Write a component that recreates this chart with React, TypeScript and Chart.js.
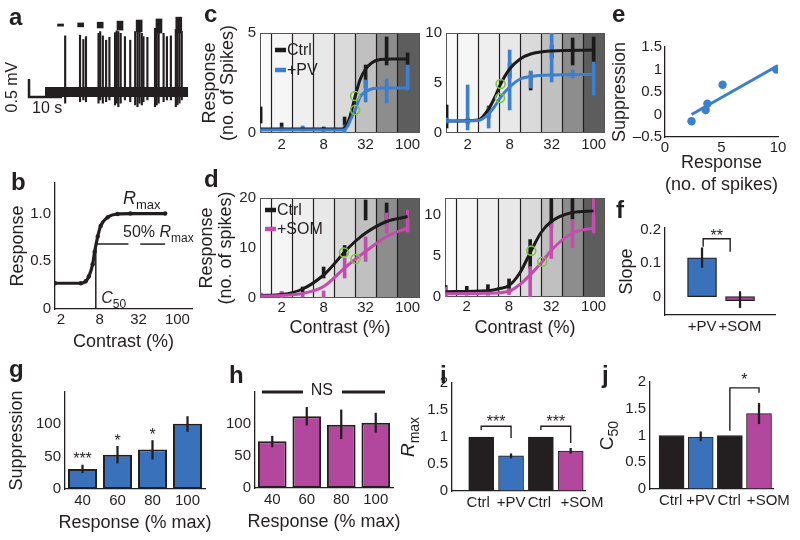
import React, { useEffect, useRef } from 'react';
import { Chart, registerables } from 'chart.js';

Chart.register(...registerables);

const FONT = "'Liberation Sans', Arial, Helvetica, sans-serif";
const INK = '#231f20';
const BAR_BLUE = '#3a71bb';
const BAR_MAG = '#b2479d';
const LINE_BLUE = '#3b7fd1';
const LINE_MAG = '#c34dac';
const LINE_BLACK = '#1c1a1b';
const GREEN = '#7fc341';

// ---------------- data ----------------
// a: spike raster of the example trace (time in s, voltage in mV)
const spikeT = [6.1, 10.6, 11.6, 12.4, 16.2, 16.7, 17.5, 18.5, 19.5, 21.2, 21.7, 22.2, 22.9, 24.2, 25.8, 27.3, 28.0, 28.6, 29.3, 29.8, 31.0, 33.3, 33.8, 34.4, 35.9, 36.9, 38.1, 39.6, 40.1, 40.7, 41.4];
const spikeHi = [1.56, 1.58, 1.46, 1.54, 1.63, 1.68, 1.56, 1.44, 1.52, 1.65, 1.7, 1.68, 1.63, 1.54, 1.44, 1.68, 1.72, 1.68, 1.63, 1.54, 1.52, 1.77, 1.72, 1.7, 1.63, 1.54, 1.56, 1.74, 1.72, 1.7, 1.68];
const spikeLo = [-0.31, -0.27, -0.22, -0.27, -0.31, -0.22, -0.31, -0.27, -0.22, -0.36, -0.31, -0.41, -0.31, -0.22, -0.27, -0.36, -0.41, -0.31, -0.36, -0.27, -0.22, -0.41, -0.36, -0.31, -0.27, -0.22, -0.22, -0.41, -0.36, -0.31, -0.22];
const stimT = [4.7, 10.8, 16.7, 22.7, 28.5, 34.5, 40.5];
const stimHi = [1.89, 1.92, 1.94, 1.97, 2.0, 2.03, 2.08];
const stimLo = [1.83, 1.81, 1.78, 1.72, 1.67, 1.64, 1.64];
const traceStart = 0;
const traceEnd = 43.3;
const sbX = -4.85; // scale bar anchor (s)
const sbY = -0.14; // scale bar anchor (mV)
const sbT = 10; // 10 s
const sbV = 0.5; // 0.5 mV

// shared contrast axis (index of contrast level)
const levelIdx = [0, 1, 2, 3, 4, 5, 6, 7];
const contrastTickPos = [1, 3, 5, 7];
const contrastTickLbl = ['2', '8', '32', '100'];
const bandGrays = ['#fbfbfb', '#f6f6f6', '#efefef', '#e8e8e8', '#dadada', '#c0c0c0', '#8d8d8d', '#5d5d5d'];

// b: schematic curve
const bCurveX = [0.7, 2.03, 2.28, 2.44, 2.64, 2.74, 2.9, 3.05, 3.41, 3.92, 4.58, 6.37];
const bCurveY = [0.27, 0.27, 0.29, 0.34, 0.47, 0.6, 0.76, 0.87, 0.96, 0.995, 1.0, 1.0];
const bC50 = 2.8;
const bHalf = 0.68;

// c left
const c1CtrlX = [0, 3.9, 4.1, 4.25, 4.4, 4.52, 4.73, 4.97, 5.28, 5.68, 6.2, 7];
const c1CtrlY = [0.2, 0.2, 0.4, 0.8, 1.4, 1.9, 2.65, 3.15, 3.5, 3.67, 3.7, 3.7];
const c1PvX = [0, 3.95, 4.15, 4.3, 4.52, 4.73, 4.97, 5.28, 5.8, 7];
const c1PvY = [0.15, 0.15, 0.35, 0.7, 1.2, 1.8, 2.05, 2.2, 2.25, 2.25];
const c1CtrlLo = [0.5, 0.25, 0.15, 0.15, 0.4, 2.25, 3.4, 3.4];
const c1CtrlHi = [1.3, 0.5, 0.3, 0.3, 0.8, 3.4, 4.8, 4.0];
const c1PvLo = [0.1, 0.1, 0.1, 0.05, 0.0, 1.55, 1.5, 2.15];
const c1PvHi = [0.25, 0.3, 0.35, 0.25, 0.4, 2.65, 2.7, 3.4];
const c1C50 = [[4.5, 1.85], [4.5, 1.15]];

// c right
const c2CtrlX = [0, 1.5, 2, 2.3, 2.57, 3, 3.5, 4, 5, 7];
const c2CtrlY = [1.2, 1.3, 2.4, 3.6, 4.9, 6.4, 7.4, 7.9, 8.2, 8.3];
const c2PvX = [0, 1.5, 2, 2.3, 2.54, 3, 3.5, 4, 5, 7];
const c2PvY = [1.2, 1.25, 1.9, 2.7, 3.5, 4.6, 5.4, 5.65, 5.8, 5.85];
const c2CtrlLo = [0.5, 0.9, 1.5, 5.5, 4.3, 7.5, 6.8, 6.9];
const c2CtrlHi = [2.8, 1.5, 2.7, 7.0, 6.1, 8.8, 9.5, 9.6];
const c2PvLo = [1.0, 0.3, 0.5, 2.3, 4.5, 5.1, 5.5, 3.8];
const c2PvHi = [1.5, 4.8, 2.6, 8.3, 6.2, 10, 6.3, 7.1];
const c2C50 = [[2.57, 4.9], [2.54, 3.5]];

// d left
const d1CtrlX = [0, 1, 2, 3, 3.5, 3.97, 4.5, 5, 6, 7];
const d1CtrlY = [0.5, 0.7, 1.8, 4.6, 6.8, 9.1, 11.3, 13, 15.3, 16.3];
const d1SomX = [0, 1, 2, 3, 4, 4.52, 5, 6, 7];
const d1SomY = [0.4, 0.5, 0.9, 2.3, 6, 7.8, 9.3, 12.3, 14];
const d1CtrlLo = [0.3, 0.2, 1.2, 4, 8.5, 15.6, 15, 16];
const d1CtrlHi = [0.9, 1.2, 2.2, 6.2, 10.5, 19.6, 19, 17.5];
const d1SomLo = [0.3, 0, 0.2, 0, 4, 7.3, 13, 13.2];
const d1SomHi = [1.0, 1.3, 1.0, 1.4, 8, 12.2, 17, 17.6];
const d1C50 = [[3.97, 9.1], [4.52, 7.8]];

// d right
const d2CtrlX = [0, 2, 2.5, 3, 3.5, 4.05, 4.5, 5, 6, 7];
const d2CtrlY = [0.65, 0.75, 1.0, 1.4, 2.9, 5.65, 7.8, 9.2, 10.3, 10.5];
const d2SomX = [0, 2, 3, 3.5, 4, 4.57, 5, 6, 7];
const d2SomY = [0.4, 0.45, 0.7, 1.5, 2.7, 4.3, 5.7, 7.8, 8.4];
const d2CtrlLo = [0.2, 0.3, 0.4, 0.8, 3.5, 8.5, 9.5, 10];
const d2CtrlHi = [1.4, 1.3, 1.5, 2.2, 7.0, 12, 12, 12];
const d2SomLo = [0, 0.2, 0.2, 0.3, 0, 4.7, 6, 7.8];
const d2SomHi = [1.2, 0.8, 0.8, 1.0, 3.7, 9, 9.4, 12];
const d2C50 = [[4.05, 5.65], [4.57, 4.3]];

// e
const eX = [2.35, 3.6, 3.75, 5.1, 9.85];
const eY = [-0.15, 0.1, 0.24, 0.66, 1.0];
const eFitX = [2.35, 10];
const eFitY = [0.0, 1.09];

// f
const fCats = ['+PV', '+SOM'];
const fVals = [0.116, -0.012];
const fLo = [0.087, -0.033];
const fHi = [0.146, 0.015];

// g
const gCats = ['40', '60', '80', '100'];
const gVals = [31, 53, 61, 101];
const gLo = [25, 40, 46, 89];
const gHi = [37, 66, 75, 112];
const gStars = ['***', '*', '*', ''];

// h
const hCats = ['40', '60', '80', '100'];
const hVals = [73, 112, 99, 102];
const hLo = [64, 98, 77, 87];
const hHi = [81, 126, 122, 117];

// i
const iCats = ['Ctrl', '+PV', 'Ctrl', '+SOM'];
const iVals = [1, 0.65, 1, 0.74];
const iLo = [null, 0.61, null, 0.7];
const iHi = [null, 0.69, null, 0.79];
const iLabelPos = [0.9, 2.0, 2.95, 4.38];

// j
const jCats = ['Ctrl', '+PV', 'Ctrl', '+SOM'];
const jVals = [1, 0.97, 1, 1.41];
const jLo = [null, 0.9, null, 1.22];
const jHi = [null, 1.07, null, 1.6];
const jLabelPos = [0.97, 2.0, 2.98, 4.32];

const barColors = [INK, BAR_BLUE, INK, BAR_MAG];

// ---------------- layout ----------------
type Box = { x: number; y: number; w: number; h: number };
type Area = { l: number; t: number; r: number; b: number };

const cvA: Box = { x: 0, y: 0, w: 200, h: 120 };
const cvB: Box = { x: 0, y: 170, w: 200, h: 181 };
const aB: Area = { l: 55, t: 178, r: 192, b: 309 };
const cvC1: Box = { x: 198, y: 0, w: 232, h: 160 };
const aC1: Area = { l: 260, t: 33, r: 420, b: 133 };
const cvC2: Box = { x: 425, y: 0, w: 187, h: 160 };
const aC2: Area = { l: 446, t: 33, r: 605, b: 133 };
const cvD1: Box = { x: 198, y: 165, w: 232, h: 172 };
const aD1: Area = { l: 260, t: 198, r: 420, b: 298 };
const cvD2: Box = { x: 425, y: 165, w: 187, h: 172 };
const aD2: Area = { l: 445, t: 198, r: 605, b: 297 };
const cvE: Box = { x: 610, y: 0, w: 190, h: 196 };
const aE: Area = { l: 665, t: 47, r: 778, b: 137 };
const cvF: Box = { x: 610, y: 196, w: 190, h: 150 };
const aF: Area = { l: 665, t: 228, r: 775, b: 315 };
const cvG: Box = { x: 0, y: 360, w: 215, h: 178 };
const aG: Area = { l: 65, t: 392, r: 205, b: 489 };
const cvH: Box = { x: 215, y: 360, w: 215, h: 178 };
const aH: Area = { l: 255, t: 392, r: 393, b: 488 };
const cvI: Box = { x: 390, y: 360, w: 222, h: 180 };
const aI: Area = { l: 452, t: 383, r: 585, b: 491 };
const cvJ: Box = { x: 585, y: 360, w: 215, h: 180 };
const aJ: Area = { l: 650, t: 382, r: 773, b: 489 };

const panelLetters: [string, number, number][] = [
  ['a', 9, 5], ['b', 11, 170], ['c', 204, 2], ['d', 204, 167], ['e', 612, 2],
  ['f', 616, 198], ['g', 9, 357], ['h', 229, 363], ['i', 440, 363], ['j', 602, 363],
];

// ---------------- helpers ----------------
const baseOpts = {
  responsive: false,
  animation: false,
  events: [],
  plugins: { legend: { display: false }, tooltip: { enabled: false } },
};

function layoutFor(cv: Box, a: Area) {
  return { padding: { left: 0, top: a.t - cv.y, right: cv.x + cv.w - a.r, bottom: 0 }, autoPadding: false };
}

function titleOpt(text: any, pad: number, lh = 1, size = 18) {
  return text
    ? { display: true, text, color: INK, font: { family: FONT, size, lineHeight: lh }, padding: { top: pad, bottom: pad } }
    : { display: false };
}

function valueAxis(o: any) {
  return {
    type: 'linear',
    min: o.min,
    max: o.max,
    offset: false,
    grid: { display: false, drawTicks: false, offset: false },
    border: { display: o.border !== false, color: INK, width: 1.3 },
    afterBuildTicks: (s: any) => {
      s.ticks = o.ticks.map((v: number) => ({ value: v }));
    },
    afterFit: (s: any) => {
      if (o.horizontal) s.height = o.size;
      else s.width = o.size;
    },
    ticks: {
      callback: (_v: any, i: number) => o.labels[i],
      font: { family: FONT, size: o.tickSize || 15 },
      color: INK,
      padding: o.pad ?? 3,
      autoSkip: false,
      maxRotation: 0,
      minRotation: 0,
    },
    title: titleOpt(o.title, o.titlePad || 0, o.titleLH || 1),
  };
}

function catAxis(o: any) {
  return {
    type: 'category',
    grid: { display: false, drawTicks: false },
    border: { display: true, color: INK, width: 1.3 },
    afterFit: (s: any) => {
      s.height = o.size;
    },
    ticks: { font: { family: FONT, size: 15 }, color: INK, padding: o.pad ?? 3, autoSkip: false, maxRotation: 0, minRotation: 0 },
  };
}

type Part = { t: string; italic?: boolean; sub?: boolean };
function drawRich(ctx: any, x: number, y: number, parts: Part[], size: number, align: 'left' | 'center' = 'left') {
  const fontOf = (p: Part) => `${p.italic ? 'italic ' : ''}${p.sub ? Math.round(size * 0.72) : size}px ${FONT}`;
  let w = 0;
  parts.forEach((p) => {
    ctx.font = fontOf(p);
    w += ctx.measureText(p.t).width;
  });
  let cx = align === 'center' ? x - w / 2 : x;
  ctx.textAlign = 'left';
  ctx.textBaseline = 'alphabetic';
  ctx.fillStyle = INK;
  parts.forEach((p) => {
    ctx.font = fontOf(p);
    ctx.fillText(p.t, cx, p.sub ? y + size * 0.28 : y);
    cx += ctx.measureText(p.t).width;
  });
}

function strokePath(ctx: any, xs: any, ys: any, pts: number[][], width = 1.5) {
  ctx.strokeStyle = INK;
  ctx.lineWidth = width;
  ctx.beginPath();
  pts.forEach(([x, y], i) => {
    const px = xs.getPixelForValue(x);
    const py = ys.getPixelForValue(y);
    if (i === 0) ctx.moveTo(px, py);
    else ctx.lineTo(px, py);
  });
  ctx.stroke();
}

function annot(id: string, draw: (ctx: any, xs: any, ys: any, chart: any) => void) {
  return {
    id,
    afterDraw(chart: any) {
      const ctx = chart.ctx;
      ctx.save();
      draw(ctx, chart.scales.x, chart.scales.y, chart);
      ctx.restore();
    },
  };
}

function rotatedLines(ctx: any, xs: number[], yMid: number, lines: string[], size = 18) {
  ctx.fillStyle = INK;
  ctx.font = `${size}px ${FONT}`;
  ctx.textAlign = 'center';
  ctx.textBaseline = 'middle';
  lines.forEach((t, k) => {
    ctx.save();
    ctx.translate(xs[k], yMid);
    ctx.rotate(-Math.PI / 2);
    ctx.fillText(t, 0, 0);
    ctx.restore();
  });
}

const bandsPlugin = {
  id: 'bands',
  beforeDatasetsDraw(chart: any) {
    const { ctx, chartArea: a } = chart;
    const x = chart.scales.x;
    ctx.save();
    bandGrays.forEach((g, i) => {
      const x0 = i === 0 ? a.left : x.getPixelForValue(i - 0.5);
      const x1 = i === bandGrays.length - 1 ? a.right : x.getPixelForValue(i + 0.5);
      ctx.fillStyle = g;
      ctx.fillRect(x0, a.top, x1 - x0, a.bottom - a.top);
    });
    ctx.strokeStyle = INK;
    ctx.lineWidth = 1.2;
    for (let i = 0; i < bandGrays.length - 1; i++) {
      const px = Math.round(x.getPixelForValue(i + 0.5)) + 0.5;
      ctx.beginPath();
      ctx.moveTo(px, a.top);
      ctx.lineTo(px, a.bottom);
      ctx.stroke();
    }
    ctx.strokeStyle = '#555';
    ctx.lineWidth = 1;
    ctx.strokeRect(a.left + 0.5, a.top + 0.5, a.right - a.left - 1, a.bottom - a.top - 1);
    ctx.restore();
  },
};

function insideLegend(dx: number, dy: number, gap: number) {
  return {
    id: 'insideLegend',
    afterDatasetsDraw(chart: any) {
      const { ctx, chartArea: a } = chart;
      const items = chart.data.datasets.filter((d: any) => d.legendRank !== undefined).sort((p: any, q: any) => p.legendRank - q.legendRank);
      ctx.save();
      items.forEach((d: any, k: number) => {
        const y = a.top + dy + k * gap;
        ctx.strokeStyle = d.borderColor;
        ctx.lineWidth = 4.5;
        ctx.beginPath();
        ctx.moveTo(a.left + dx, y);
        ctx.lineTo(a.left + dx + 11, y);
        ctx.stroke();
        ctx.fillStyle = INK;
        ctx.font = `16px ${FONT}`;
        ctx.textAlign = 'left';
        ctx.textBaseline = 'middle';
        ctx.fillText(d.label, a.left + dx + 12, y + 1);
      });
      ctx.restore();
    },
  };
}

// ---------------- chart configs ----------------
function cfgA() {
  return {
    type: 'line',
    data: {
      datasets: [
        { type: 'bar', data: spikeT.map((t, i) => ({ x: t, y: [spikeLo[i], spikeHi[i]] })), backgroundColor: INK, barThickness: 1.5, grouped: false, order: 1 },
        { type: 'bar', data: stimT.map((t, i) => ({ x: t, y: [stimLo[i], stimHi[i]] })), backgroundColor: INK, barThickness: 6, grouped: false, order: 1 },
        { data: [{ x: traceStart, y: 0 }, { x: traceEnd, y: 0 }], borderColor: INK, borderWidth: 10, pointRadius: 0, order: 2 },
        {
          data: [{ x: sbX, y: sbY + sbV }, { x: sbX, y: sbY }, { x: sbX + sbT, y: sbY }],
          borderColor: INK, borderWidth: 2.5, pointRadius: 0, order: 0,
        },
      ],
    },
    options: {
      ...baseOpts,
      layout: { padding: { left: 25, top: 15, right: 8, bottom: 10 }, autoPadding: false },
      scales: {
        x: { type: 'linear', display: false, offset: false, min: -6.06, max: 44.5 },
        y: { type: 'linear', display: false, min: -0.5, max: 2.14 },
      },
    },
    plugins: [
      annot('aLabels', (ctx, x, y) => {
        const bx = x.getPixelForValue(sbX);
        const by0 = y.getPixelForValue(sbY);
        const by1 = y.getPixelForValue(sbY + sbV);
        ctx.fillStyle = INK;
        ctx.font = `16px ${FONT}`;
        ctx.save();
        ctx.translate(bx - 8, (by0 + by1) / 2 - 1);
        ctx.rotate(-Math.PI / 2);
        ctx.textAlign = 'center';
        ctx.textBaseline = 'bottom';
        ctx.fillText('0.5 mV', 0, 0);
        ctx.restore();
        ctx.textAlign = 'left';
        ctx.textBaseline = 'top';
        ctx.fillText('10 s', bx + 3, by0 + 4);
      }),
    ],
  };
}

function cfgB() {
  return {
    type: 'line',
    data: {
      datasets: [
        {
          data: bCurveX.map((x, i) => ({ x, y: bCurveY[i] })),
          borderColor: INK, borderWidth: 3.2, pointRadius: 2.2, pointBackgroundColor: INK, pointBorderWidth: 0,
          cubicInterpolationMode: 'monotone',
        },
      ],
    },
    options: {
      ...baseOpts,
      layout: layoutFor(cvB, aB),
      scales: {
        x: valueAxis({ min: 0.7, max: 7.75, ticks: contrastTickPos, labels: contrastTickLbl, horizontal: true, size: cvB.y + cvB.h - aB.b, pad: 2, title: 'Contrast (%)' }),
        y: valueAxis({ min: 0, max: 1.32, ticks: [0, 0.5, 1.0], labels: ['0', '0.5', '1.0'], size: aB.l - cvB.x, pad: 4, title: 'Response', titlePad: 9 }),
      },
    },
    plugins: [
      annot('bNotes', (ctx, xs, ys) => {
        strokePath(ctx, xs, ys, [[bC50, 0], [bC50, bHalf]], 1.5);
        strokePath(ctx, xs, ys, [[bC50, bHalf], [4.48, bHalf]], 1.5);
        strokePath(ctx, xs, ys, [[5.09, bHalf], [6.37, bHalf]], 1.5);
        drawRich(ctx, xs.getPixelForValue(4.2), ys.getPixelForValue(1.1), [{ t: 'R', italic: true }, { t: 'max', sub: true }], 18);
        drawRich(ctx, xs.getPixelForValue(4.2), ys.getPixelForValue(0.75), [{ t: '50% ' }, { t: 'R', italic: true }, { t: 'max', sub: true }], 16);
        drawRich(ctx, xs.getPixelForValue(3.08), ys.getPixelForValue(0.06), [{ t: 'C', italic: true }, { t: '50', sub: true }], 16);
      }),
    ],
  };
}

function cfgCurve(o: any) {
  const errs = (lo: number[], hi: number[], color: string, order: number) => ({
    type: 'bar',
    data: lo.map((l, i) => ({ x: levelIdx[i], y: [l, hi[i]] })),
    backgroundColor: color,
    barThickness: 3,
    grouped: false,
    order,
  });
  const curve = (xs: number[], ysv: number[], color: string, label: string, rank: number, order: number) => ({
    label,
    legendRank: rank,
    data: xs.map((x, i) => ({ x, y: ysv[i] })),
    borderColor: color,
    borderWidth: 3,
    pointRadius: 0,
    cubicInterpolationMode: 'monotone',
    order,
  });
  const datasets = [
    {
      label: 'C50', data: o.c50.map(([x, y]: number[]) => ({ x, y })), showLine: false,
      pointRadius: 4.5, pointBorderColor: GREEN, pointBackgroundColor: 'rgba(0,0,0,0)', pointBorderWidth: 1.6, order: 0,
    },
    curve(o.expX, o.expY, o.expColor, o.expLabel, 1, 2),
    curve(o.ctrlX, o.ctrlY, LINE_BLACK, 'Ctrl', 0, 3),
    errs(o.expLo, o.expHi, o.expColor, 4),
    errs(o.ctrlLo, o.ctrlHi, LINE_BLACK, 5),
  ];
  const plugins: any[] = [bandsPlugin];
  if (o.legend) plugins.push(insideLegend(o.legend[0], o.legend[1], o.legend[2]));
  if (o.yTitle) {
    plugins.push(
      annot('yTitle', (ctx, _xs, _ys, chart) => {
        const a = chart.chartArea;
        rotatedLines(ctx, o.yTitleDx.map((d: number) => a.left + d), (a.top + a.bottom) / 2, o.yTitle);
      }),
    );
  }
  return {
    type: 'line',
    data: { datasets },
    options: {
      ...baseOpts,
      layout: layoutFor(o.cv, o.a),
      scales: {
        x: valueAxis({
          min: o.xmin, max: o.xmax, ticks: contrastTickPos, labels: contrastTickLbl, horizontal: true,
          size: o.cv.y + o.cv.h - o.a.b, pad: o.xPad ?? 3, border: false, title: o.xTitle,
        }),
        y: valueAxis({
          min: 0, max: o.ymax, ticks: o.yTicks, labels: o.yTicks.map(String), size: o.a.l - o.cv.x, pad: 4, border: false,
        }),
      },
    },
    plugins,
  };
}

function cfgE() {
  return {
    type: 'line',
    data: {
      datasets: [
        { data: eX.map((x, i) => ({ x, y: eY[i] })), showLine: false, pointRadius: 4.2, pointBackgroundColor: LINE_BLUE, pointBorderWidth: 0, order: 0 },
        { data: eFitX.map((x, i) => ({ x, y: eFitY[i] })), borderColor: LINE_BLUE, borderWidth: 3, pointRadius: 0, order: 1 },
      ],
    },
    options: {
      ...baseOpts,
      layout: layoutFor(cvE, aE),
      scales: {
        x: valueAxis({ min: 0, max: 10, ticks: [0, 5, 10], labels: ['0', '5', '10'], horizontal: true, size: cvE.y + cvE.h - aE.b, pad: 2, title: ['Response', '(no. of spikes)'], titleLH: 1.22 }),
        y: valueAxis({ min: -0.5, max: 1.5, ticks: [-0.5, 0, 0.5, 1, 1.5], labels: ['\u20130.5', '0', '0.5', '1', '1.5'], size: aE.l - cvE.x, pad: 3, title: 'Suppression', titlePad: 1 }),
      },
    },
  };
}

function cfgF() {
  return {
    type: 'line',
    data: {
      datasets: [
        { type: 'bar', data: fLo.map((l, i) => ({ x: i + 1, y: [l, fHi[i]] })), backgroundColor: INK, barThickness: 1.6, grouped: false, order: 0 },
        {
          type: 'bar', data: fVals.map((v, i) => ({ x: i + 1, y: v })), backgroundColor: [BAR_BLUE, BAR_MAG],
          borderColor: INK, borderWidth: 1.3, borderSkipped: false, barThickness: 29, grouped: false, order: 1,
        },
      ],
    },
    options: {
      ...baseOpts,
      layout: layoutFor(cvF, aF),
      scales: {
        x: valueAxis({ min: 0.026, max: 2.92, ticks: [1, 2], labels: fCats, horizontal: true, size: cvF.y + cvF.h - aF.b, pad: 3 }),
        y: valueAxis({ min: -0.055, max: 0.205, ticks: [0, 0.1, 0.2], labels: ['0', '0.1', '0.2'], size: aF.l - cvF.x, pad: 4, title: 'Slope', titlePad: 8 }),
      },
    },
    plugins: [
      annot('fNotes', (ctx, xs, ys) => {
        strokePath(ctx, xs, ys, [[1.03, 0.149], [1.03, 0.173], [1.74, 0.173], [1.74, 0.134]], 1.4);
        starText(ctx, '**', xs.getPixelForValue(1.39), ys.getPixelForValue(0.173) + 2);
      }),
    ],
  };
}

function cfgBars(cv: Box, a: Area, cats: string[], vals: number[], lo: number[], hi: number[], color: string, yTitle: any, notes: any) {
  return {
    type: 'bar',
    data: {
      labels: cats,
      datasets: [
        { data: lo.map((l, i) => [l, hi[i]]), backgroundColor: INK, barThickness: 1.6, grouped: false, order: 0 },
        {
          data: vals, backgroundColor: color, borderColor: INK, borderWidth: 2, borderSkipped: false,
          barPercentage: 0.83, categoryPercentage: 1, grouped: false, order: 1,
        },
      ],
    },
    options: {
      ...baseOpts,
      layout: layoutFor(cv, a),
      scales: {
        x: catAxis({ size: cv.y + cv.h - a.b, pad: 3 }),
        y: valueAxis({ min: 0, max: 150, ticks: [0, 50, 100], labels: ['0', '50', '100'], size: a.l - cv.x, pad: 4, title: yTitle, titlePad: 8 }),
      },
    },
    plugins: [
      notes,
      annot('xTitle', (ctx, _xs, _ys, chart) => {
        const ar = chart.chartArea;
        ctx.fillStyle = INK;
        ctx.font = `18px ${FONT}`;
        ctx.textAlign = 'center';
        ctx.textBaseline = 'middle';
        ctx.fillText('Response (% max)', (ar.left + ar.right) / 2, ar.bottom + 34);
      }),
    ],
  };
}

function cfgNorm(cv: Box, a: Area, cats: string[], labelPos: number[], vals: number[], lo: any[], hi: any[], xmin: number, notes: any) {
  const errData: any[] = [];
  lo.forEach((l, i) => {
    if (l !== null) errData.push({ x: i + 1, y: [l, hi[i]] });
  });
  return {
    type: 'line',
    data: {
      datasets: [
        { type: 'bar', data: errData, backgroundColor: INK, barThickness: 1.6, grouped: false, order: 0 },
        {
          type: 'bar', data: vals.map((v, i) => ({ x: i + 1, y: v })), backgroundColor: barColors,
          borderColor: INK, borderWidth: 1, borderSkipped: false, barThickness: 25, grouped: false, order: 1,
        },
      ],
    },
    options: {
      ...baseOpts,
      layout: layoutFor(cv, a),
      scales: {
        x: valueAxis({ min: xmin, max: 4.48, ticks: labelPos, labels: cats, horizontal: true, size: cv.y + cv.h - a.b, pad: 3 }),
        y: valueAxis({ min: 0, max: 2, ticks: [0, 0.5, 1, 1.5, 2], labels: ['0', '0.5', '1', '1.5', '2'], size: a.l - cv.x, pad: 4 }),
      },
    },
    plugins: [notes],
  };
}

function starText(ctx: any, text: string, px: number, py: number) {
  ctx.fillStyle = INK;
  ctx.font = `16px ${FONT}`;
  ctx.textAlign = 'center';
  ctx.textBaseline = 'alphabetic';
  ctx.fillText(text, px, py);
}

const gNotes = annot('gNotes', (ctx, xs, ys) => {
  gStars.forEach((s, i) => {
    if (s) starText(ctx, s, xs.getPixelForValue(i), ys.getPixelForValue(gHi[i] + 1));
  });
});

const hNotes = annot('hNotes', (ctx, xs, ys) => {
  strokePath(ctx, xs, ys, [[-0.3, 150], [0.89, 150]], 3);
  strokePath(ctx, xs, ys, [[2.02, 150], [3.27, 150]], 3);
  ctx.fillStyle = INK;
  ctx.font = `16px ${FONT}`;
  ctx.textAlign = 'center';
  ctx.textBaseline = 'middle';
  ctx.fillText('NS', xs.getPixelForValue(1.44), ys.getPixelForValue(150) - 1);
});

const iNotes = annot('iNotes', (ctx, xs, ys, chart) => {
  strokePath(ctx, xs, ys, [[1, 1.13], [1, 1.2], [2, 1.2], [2, 0.98]], 1.4);
  strokePath(ctx, xs, ys, [[3, 1.13], [3, 1.2], [4, 1.2], [4, 0.89]], 1.4);
  starText(ctx, '***', xs.getPixelForValue(1.5), ys.getPixelForValue(1.2) + 1);
  starText(ctx, '***', xs.getPixelForValue(3.5), ys.getPixelForValue(1.2) + 1);
  const a = chart.chartArea;
  ctx.save();
  ctx.translate(a.left - 38, (a.top + a.bottom) / 2);
  ctx.rotate(-Math.PI / 2);
  drawRich(ctx, 0, 0, [{ t: 'R', italic: true }, { t: 'max', sub: true }], 19, 'center');
  ctx.restore();
});

const jNotes = annot('jNotes', (ctx, xs, ys, chart) => {
  strokePath(ctx, xs, ys, [[3, 1.09], [3, 1.89], [4, 1.89], [4, 1.8]], 1.4);
  starText(ctx, '*', xs.getPixelForValue(3.5), ys.getPixelForValue(1.89) - 3);
  const a = chart.chartArea;
  ctx.save();
  ctx.translate(a.left - 37, (a.top + a.bottom) / 2);
  ctx.rotate(-Math.PI / 2);
  drawRich(ctx, 0, 0, [{ t: 'C' }, { t: '50', sub: true }], 19, 'center');
  ctx.restore();
});

// ---------------- components ----------------
function ChartBox({ box, make }: { box: Box; make: () => any }) {
  const ref = useRef<HTMLCanvasElement | null>(null);
  useEffect(() => {
    const chart = new Chart(ref.current as HTMLCanvasElement, make());
    return () => chart.destroy();
  }, []);
  return (
    <canvas
      ref={ref}
      width={box.w}
      height={box.h}
      style={{ position: 'absolute', left: box.x, top: box.y, width: box.w, height: box.h }}
    />
  );
}

export default function App() {
  return (
    <div style={{ position: 'fixed', left: 0, top: 0, width: 800, height: 540, background: '#fff', overflow: 'hidden', color: INK }}>
      <ChartBox box={cvA} make={cfgA} />
      <ChartBox box={cvB} make={cfgB} />
      <ChartBox
        box={cvC1}
        make={() =>
          cfgCurve({
            cv: cvC1, a: aC1, xmin: -0.03, xmax: 7.59, ymax: 5, yTicks: [0, 5],
            ctrlX: c1CtrlX, ctrlY: c1CtrlY, ctrlLo: c1CtrlLo, ctrlHi: c1CtrlHi,
            expX: c1PvX, expY: c1PvY, expLo: c1PvLo, expHi: c1PvHi, expColor: LINE_BLUE, expLabel: '+PV',
            c50: c1C50, legend: [15, 17, 20], yTitle: ['Response', '(no. of Spikes)'], yTitleDx: [-50, -32],
          })
        }
      />
      <ChartBox
        box={cvC2}
        make={() =>
          cfgCurve({
            cv: cvC2, a: aC2, xmin: -0.03, xmax: 7.54, ymax: 10, yTicks: [0, 5, 10],
            ctrlX: c2CtrlX, ctrlY: c2CtrlY, ctrlLo: c2CtrlLo, ctrlHi: c2CtrlHi,
            expX: c2PvX, expY: c2PvY, expLo: c2PvLo, expHi: c2PvHi, expColor: LINE_BLUE, expLabel: '+PV',
            c50: c2C50,
          })
        }
      />
      <ChartBox
        box={cvD1}
        make={() =>
          cfgCurve({
            cv: cvD1, a: aD1, xmin: -0.03, xmax: 7.59, ymax: 20, yTicks: [0, 10, 20],
            ctrlX: d1CtrlX, ctrlY: d1CtrlY, ctrlLo: d1CtrlLo, ctrlHi: d1CtrlHi,
            expX: d1SomX, expY: d1SomY, expLo: d1SomLo, expHi: d1SomHi, expColor: LINE_MAG, expLabel: '+SOM',
            c50: d1C50, legend: [5, 12, 19], yTitle: ['Response', '(no. of spikes)'], yTitleDx: [-53, -34],
            xTitle: 'Contrast (%)', xPad: 1,
          })
        }
      />
      <ChartBox
        box={cvD2}
        make={() =>
          cfgCurve({
            cv: cvD2, a: aD2, xmin: -0.03, xmax: 7.54, ymax: 12.07, yTicks: [0, 5, 10],
            ctrlX: d2CtrlX, ctrlY: d2CtrlY, ctrlLo: d2CtrlLo, ctrlHi: d2CtrlHi,
            expX: d2SomX, expY: d2SomY, expLo: d2SomLo, expHi: d2SomHi, expColor: LINE_MAG, expLabel: '+SOM',
            c50: d2C50, xTitle: 'Contrast (%)', xPad: 1,
          })
        }
      />
      <ChartBox box={cvE} make={cfgE} />
      <ChartBox box={cvF} make={cfgF} />
      <ChartBox box={cvG} make={() => cfgBars(cvG, aG, gCats, gVals, gLo, gHi, BAR_BLUE, 'Suppression', gNotes)} />
      <ChartBox box={cvH} make={() => cfgBars(cvH, aH, hCats, hVals, hLo, hHi, BAR_MAG, null, hNotes)} />
      <ChartBox box={cvI} make={() => cfgNorm(cvI, aI, iCats, iLabelPos, iVals, iLo, iHi, 0.02, iNotes)} />
      <ChartBox box={cvJ} make={() => cfgNorm(cvJ, aJ, jCats, jLabelPos, jVals, jLo, jHi, 0.26, jNotes)} />
      {panelLetters.map(([ch, x, y]) => (
        <div
          key={ch}
          style={{ position: 'absolute', left: x, top: y, font: `bold 24px ${FONT}`, lineHeight: '24px', color: INK }}
        >
          {ch}
        </div>
      ))}
    </div>
  );
}
